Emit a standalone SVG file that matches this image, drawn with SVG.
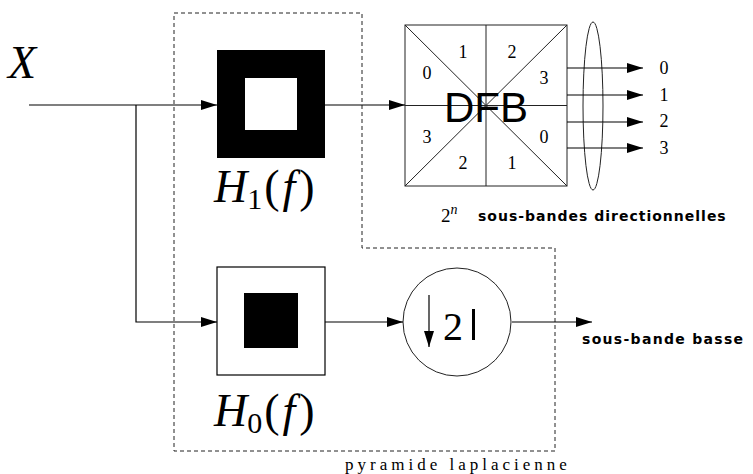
<svg xmlns="http://www.w3.org/2000/svg" width="753" height="474" viewBox="0 0 753 474">
<style>
.ln{stroke:#000;stroke-width:1.2;fill:none}
.thin{stroke:#222;stroke-width:1;fill:none}
.dash{stroke:#222;stroke-width:1;fill:none;stroke-dasharray:4,3}
.num{font-family:'Liberation Serif','Times New Roman',serif;font-size:18px;text-anchor:middle}
.math{font-family:'Liberation Serif',serif;font-style:italic;font-size:46px}
.sub{font-family:'Liberation Serif',serif;font-style:normal;font-size:30px}
.bold{font-family:'DejaVu Sans',sans-serif;font-weight:bold;font-size:14px;letter-spacing:1px}
</style>
<defs>
<marker id="ah" viewBox="0 0 16 10" refX="16" refY="5" markerWidth="16" markerHeight="10" markerUnits="userSpaceOnUse" orient="auto">
<path d="M0,0 L16,5 L0,10 Z" fill="#000"/>
</marker>
</defs>
<rect width="753" height="474" fill="#fff"/>

<g id="pyramid-boundary">
<path class="dash" d="M174,13 H362 V248 H555 V451 H174 Z"/>
<text x="458" y="470" text-anchor="middle" font-family="'Liberation Serif',serif" font-size="17" letter-spacing="4">pyramide laplacienne</text>
</g>

<g id="input">
<text class="math" x="8" y="78">X</text>
</g>

<g id="H1">
<rect x="217" y="50" width="108" height="108" fill="#000"/>
<rect x="245" y="78" width="52" height="52" fill="#fff"/>
<text class="math" x="214" y="202">H<tspan class="sub" dy="7">1</tspan><tspan dy="-7" dx="2" font-style="normal">(</tspan><tspan dx="3">f</tspan><tspan dx="4" font-style="normal">)</tspan></text>
</g>

<g id="H0">
<rect x="217" y="267" width="108" height="108" fill="#fff" stroke="#000" stroke-width="1.2"/>
<rect x="244" y="293" width="54" height="55" fill="#000"/>
<text class="math" x="214" y="426">H<tspan class="sub" dy="7">0</tspan><tspan dy="-7" dx="2" font-style="normal">(</tspan><tspan dx="3">f</tspan><tspan dx="4" font-style="normal">)</tspan></text>
</g>

<g id="DFB">
<rect x="405" y="25" width="162" height="161" class="thin" fill="#fff"/>
<path class="thin" d="M405,25 L567,186 M567,25 L405,186 M486,25 V186 M405,105.5 H567"/>
<text x="486" y="122" text-anchor="middle" font-family="'Liberation Sans',sans-serif" font-size="42">DFB</text>
<text class="num" x="463" y="58">1</text>
<text class="num" x="512" y="58">2</text>
<text class="num" x="427" y="79">0</text>
<text class="num" x="544" y="84">3</text>
<text class="num" x="427" y="143">3</text>
<text class="num" x="544" y="143">0</text>
<text class="num" x="463" y="169">2</text>
<text class="num" x="512" y="169">1</text>
</g>

<g id="directional-outputs">
<ellipse cx="593" cy="106" rx="10" ry="84" class="thin"/>
<text class="num" x="664" y="74">0</text>
<text class="num" x="664" y="101">1</text>
<text class="num" x="664" y="127">2</text>
<text class="num" x="664" y="154">3</text>
<text x="441" y="222" font-family="'Liberation Serif',serif" font-size="19">2<tspan font-style="italic" font-size="14" dy="-8">n</tspan></text>
<text class="bold" x="478" y="221">sous-bandes directionnelles</text>
</g>

<g id="downsampler">
<circle cx="457" cy="322" r="54" class="thin" fill="#fff"/>
<line x1="429" y1="295" x2="429" y2="347" stroke="#000" stroke-width="1.2" marker-end="url(#ah)"/>
<text x="443" y="340" font-family="'Liberation Serif',serif" font-size="40">2</text>
<rect x="472" y="309" width="3" height="31" fill="#000"/>
</g>

<g id="lowpass-output">
<text class="bold" x="582" y="344" style="font-size:14px;letter-spacing:1.3px">sous-bande basse</text>
</g>

<g id="connectors">
<path class="ln" d="M29,105 H217" marker-end="url(#ah)"/>
<path class="ln" d="M136,105 V322 H217" marker-end="url(#ah)"/>
<path class="ln" d="M325,105 H405" marker-end="url(#ah)"/>
<path class="ln" d="M325,322 H403" marker-end="url(#ah)"/>
<path class="ln" d="M512,322 H592" marker-end="url(#ah)"/>
<path class="ln" d="M567,68 H643" marker-end="url(#ah)"/>
<path class="ln" d="M567,95 H643" marker-end="url(#ah)"/>
<path class="ln" d="M567,122 H643" marker-end="url(#ah)"/>
<path class="ln" d="M567,148 H643" marker-end="url(#ah)"/>
</g>
</svg>
